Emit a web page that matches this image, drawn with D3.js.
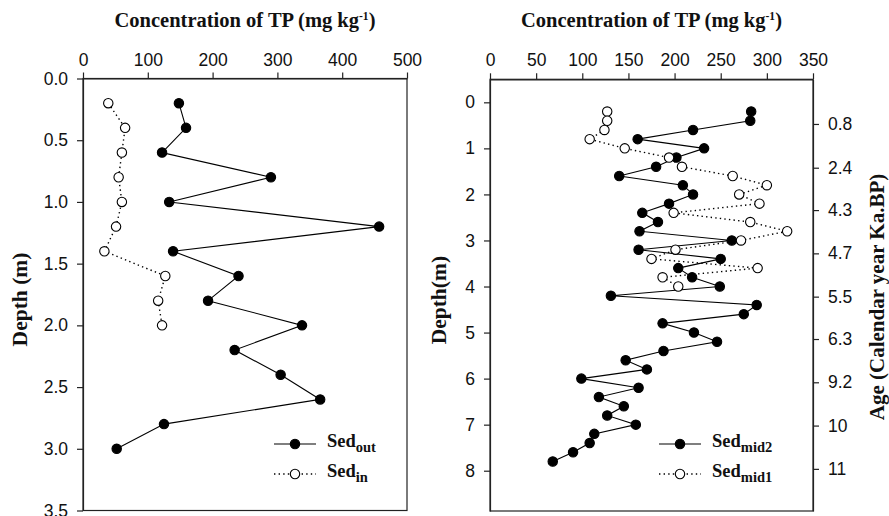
<!DOCTYPE html>
<html>
<head>
<meta charset="utf-8">
<script src="https://cdn.jsdelivr.net/npm/d3@7/dist/d3.min.js"></script>
<style>
  html, body { margin: 0; padding: 0; background: #fff; }
  svg { display: block; }
  .tick text { font-family: "Liberation Sans", Arial, sans-serif; font-size: 17.5px; fill: #111; }
  .lbl { font-family: "Liberation Serif", "Times New Roman", serif; font-weight: bold; fill: #111; }
</style>
</head>
<body>
<svg id="chart" width="889" height="516"></svg>
<script>
// ---------- DATA ----------
// Left panel: depth (m) and TP concentration (mg/kg)
const outDepth = [0.2,0.4,0.6,0.8,1.0,1.2,1.4,1.6,1.8,2.0,2.2,2.4,2.6,2.8,3.0];
const outTP    = [148,159,122,290,133,457,139,240,193,338,234,305,366,125,52];
const inDepth  = [0.2,0.4,0.6,0.8,1.0,1.2,1.4,1.6,1.8,2.0];
const inTP     = [39,65,60,55,60,51,33,127,116,122];

// Right panel
const mid2Depth = [0.2,0.4,0.6,0.8,1.0,1.2,1.4,1.6,1.8,2.0,2.2,2.4,2.6,2.8,3.0,3.2,3.4,3.6,3.8,4.0,
                   4.2,4.4,4.6,4.8,5.0,5.2,5.4,5.6,5.8,6.0,6.2,6.4,6.6,6.8,7.0,7.2,7.4,7.6,7.8];
const mid2TP    = [283,282,220,160,232,202,180,140,209,220,194,165,182,162,262,161,250,204,219,249,
                   131,289,275,187,221,246,188,147,170,99,161,118,145,127,158,113,108,90,68];
const mid1Depth = [0.2,0.4,0.6,0.8,1.0,1.2,1.4,1.6,1.8,2.0,2.2,2.4,2.6,2.8,3.0,3.2,3.4,3.6,3.8,4.0];
const mid1TP    = [127,127,124,108,146,194,208,263,300,270,292,199,282,322,272,201,175,290,187,204];

// Tick labels
const leftXTicks  = [0,100,200,300,400,500];
const leftYTicks  = [0.0,0.5,1.0,1.5,2.0,2.5,3.0,3.5];
const rightXTicks = [0,50,100,150,200,250,300,350];
const rightYTicks = [0,1,2,3,4,5,6,7,8];
const ageLabels   = ["0.8","2.4","4.3","4.7","5.5","6.3","9.2","10","11"];
const ageDepths   = [0.47,1.42,2.34,3.28,4.22,5.14,6.08,7.02,7.96];

// ---------- DRAW ----------
const svg = d3.select("#chart");
const R = 4.7;

function panel(opts) {
  const g = svg.append("g");
  const x = d3.scaleLinear().domain(opts.xDomain).range([opts.x0, opts.x1]);
  const y = d3.scaleLinear().domain(opts.yDomain).range([opts.y0, opts.y1]);

  // frame
  g.append("rect").attr("x", opts.x0).attr("y", opts.y0)
    .attr("width", opts.x1 - opts.x0).attr("height", opts.y1 - opts.y0)
    .attr("fill", "none").attr("stroke", "#222").attr("stroke-width", 1.2);

  const ax = g.append("g").attr("transform", `translate(0,${opts.y0})`)
    .call(d3.axisTop(x).tickValues(opts.xTicks).tickSize(6).tickSizeOuter(0).tickPadding(7));
  const ay = g.append("g").attr("transform", `translate(${opts.x0},0)`)
    .call(d3.axisLeft(y).tickValues(opts.yTicks).tickFormat(opts.yFmt).tickSize(6).tickSizeOuter(0).tickPadding(9));
  [ax, ay].forEach(a => {
    a.select(".domain").attr("stroke", "#222").attr("stroke-width", 1.2);
    a.selectAll(".tick line").attr("stroke", "#222").attr("stroke-width", 1.2);
  });

  // title
  const t = g.append("text").attr("class", "lbl")
    .attr("x", (opts.x0 + opts.x1) / 2).attr("y", 27)
    .attr("text-anchor", "middle").attr("font-size", 20.5);
  t.append("tspan").text("Concentration of TP (mg kg");
  t.append("tspan").attr("dy", -7).attr("font-size", 11.5).text("-1");
  t.append("tspan").attr("dy", 7).text(")");

  // y label
  g.append("text").attr("class", "lbl")
    .attr("transform", `translate(${opts.ylabX},${(opts.y0 + opts.y1) / 2 + 5}) rotate(-90)`)
    .attr("text-anchor", "middle").attr("dominant-baseline", "central")
    .attr("font-size", 21.5).text(opts.ylab);

  // series
  opts.series.forEach(s => {
    const pts = s.depth.map((d, i) => [x(s.tp[i]), y(d)]);
    g.append("path").attr("d", d3.line()(pts)).attr("fill", "none")
      .attr("stroke", "#000").attr("stroke-width", s.dotted ? 1.4 : 1.1)
      .attr("stroke-dasharray", s.dotted ? "1.4,3.2" : null);
    g.selectAll(null).data(pts).enter().append("circle")
      .attr("cx", d => d[0]).attr("cy", d => d[1]).attr("r", R)
      .attr("fill", s.dotted ? "#fff" : "#000").attr("stroke", "#000").attr("stroke-width", 1.1);
  });

  // legend
  opts.series.forEach((s, i) => {
    const ly = opts.legY + i * 30;
    g.append("line").attr("x1", opts.legX).attr("x2", opts.legX + 42)
      .attr("y1", ly).attr("y2", ly).attr("stroke", "#000")
      .attr("stroke-width", s.dotted ? 1.4 : 1.1)
      .attr("stroke-dasharray", s.dotted ? "1.4,3.2" : null);
    g.append("circle").attr("cx", opts.legX + 21).attr("cy", ly).attr("r", R)
      .attr("fill", s.dotted ? "#fff" : "#000").attr("stroke", "#000").attr("stroke-width", 1.1);
    const tx = g.append("text").attr("class", "lbl").attr("x", opts.legX + 53).attr("y", ly + 3)
      .attr("font-size", 18.5);
    tx.append("tspan").text("Sed");
    tx.append("tspan").attr("dy", 5).attr("font-size", 14.5).text(s.sub);
  });

  return {g, x, y};
}

panel({
  x0: 83, x1: 407, y0: 78.5, y1: 510.5,
  xDomain: [0, 500], yDomain: [0, 3.5],
  xTicks: leftXTicks, yTicks: leftYTicks, yFmt: d3.format(".1f"),
  ylab: "Depth (m)", ylabX: 20,
  legX: 274, legY: 444,
  series: [
    {depth: outDepth, tp: outTP, dotted: false, sub: "out"},
    {depth: inDepth, tp: inTP, dotted: true, sub: "in"}
  ]
});

const right = panel({
  x0: 490, x1: 813, y0: 79.3, y1: 511,
  xDomain: [0, 350], yDomain: [-0.5, 8.875],
  xTicks: rightXTicks, yTicks: rightYTicks, yFmt: d3.format("d"),
  ylab: "Depth(m)", ylabX: 439,
  legX: 659, legY: 444,
  series: [
    {depth: mid2Depth, tp: mid2TP, dotted: false, sub: "mid2"},
    {depth: mid1Depth, tp: mid1TP, dotted: true, sub: "mid1"}
  ]
});

// right (age) axis
const ageAxis = d3.axisRight(right.y).tickValues(ageDepths)
  .tickFormat((d, i) => ageLabels[i]).tickSize(6).tickSizeOuter(0).tickPadding(9);
const aa = right.g.append("g").attr("transform", "translate(813,0)").call(ageAxis);
aa.select(".domain").attr("stroke", "#222").attr("stroke-width", 1.2);
aa.selectAll(".tick line").attr("stroke", "#222").attr("stroke-width", 1.2);

right.g.append("text").attr("class", "lbl")
  .attr("transform", `translate(877,297) rotate(-90)`)
  .attr("text-anchor", "middle").attr("dominant-baseline", "central")
  .attr("font-size", 21).text("Age (Calendar year Ka.BP)");
</script>
</body>
</html>
